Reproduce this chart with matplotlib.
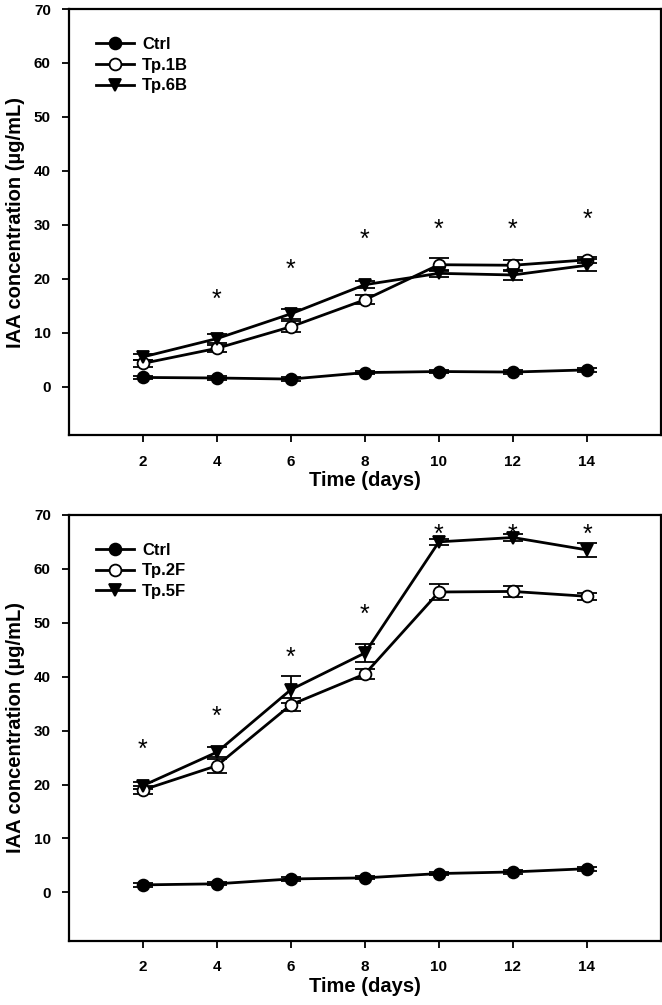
import matplotlib
matplotlib.use("Agg")
from matplotlib import pyplot as plt

plt.rcParams['font.family'] = ['Liberation Sans', 'DejaVu Sans']
plt.rcParams['font.weight'] = 'bold'

days = [2, 4, 6, 8, 10, 12, 14]

# top panel
ctrl_a = [1.7, 1.6, 1.4, 2.6, 2.8, 2.7, 3.1]
ctrl_a_err = [0.3, 0.3, 0.3, 0.3, 0.3, 0.3, 0.3]
tp1b = [4.3, 7.1, 11.1, 16.1, 22.6, 22.5, 23.5]
tp1b_err = [0.6, 0.7, 1.0, 0.8, 1.2, 1.0, 0.6]
tp6b = [5.5, 8.9, 13.5, 18.9, 21.0, 20.7, 22.5]
tp6b_err = [0.5, 0.8, 0.9, 0.6, 0.6, 0.9, 1.1]
star_days_a = [4, 6, 8, 10, 12, 14]
star_y_a = [16.0, 21.6, 27.2, 29.0, 29.0, 31.0]

# bottom panel
ctrl_b = [1.4, 1.6, 2.5, 2.7, 3.5, 3.8, 4.4]
ctrl_b_err = [0.3, 0.3, 0.3, 0.3, 0.3, 0.3, 0.4]
tp2f = [19.0, 23.5, 34.8, 40.5, 55.7, 55.8, 54.9]
tp2f_err = [0.7, 1.3, 1.2, 0.9, 1.5, 1.1, 0.7]
tp5f = [19.8, 26.0, 37.6, 44.4, 65.0, 65.8, 63.5]
tp5f_err = [0.6, 0.9, 2.5, 1.6, 0.5, 0.6, 1.3]
star_days_b = [2, 4, 6, 8, 10, 12, 14]
star_y_b = [26.5, 32.5, 43.5, 51.5, 66.3, 66.3, 66.3]

fig = plt.figure(figsize=(6.62, 10.05), dpi=100)
ax1 = fig.add_axes([0.104, 0.567, 0.8945, 0.424])
ax2 = fig.add_axes([0.104, 0.0637, 0.8945, 0.424])

panels = [
    (ax1, [("Ctrl", ctrl_a, ctrl_a_err, 'o', 'black'),
           ("Tp.1B", tp1b, tp1b_err, 'o', 'white'),
           ("Tp.6B", tp6b, tp6b_err, 'v', 'black')],
     star_days_a, star_y_a),
    (ax2, [("Ctrl", ctrl_b, ctrl_b_err, 'o', 'black'),
           ("Tp.2F", tp2f, tp2f_err, 'o', 'white'),
           ("Tp.5F", tp5f, tp5f_err, 'v', 'black')],
     star_days_b, star_y_b),
]

for ax, series, sx, sy in panels:
    for name, vals, errs, mk, face in series:
        ax.errorbar(days, vals, yerr=errs, color='black', lw=2, marker=mk,
                    ms=8.5, mfc=face, mec='black', mew=1.3, capsize=7,
                    elinewidth=1.3, capthick=1.5, label=name)
    for x, y in zip(sx, sy):
        ax.text(x, y, '*', ha='center', va='center', fontsize=18,
                fontweight='normal')

    ax.set_xlim(0, 16)
    ax.set_ylim(-9, 70)
    ax.set_xticks(days)
    ax.set_yticks(range(0, 71, 10))
    ax.tick_params(axis='both', direction='out', length=5, width=1.3,
                   labelsize=11)
    ax.tick_params(axis='x', pad=9)
    ax.tick_params(axis='y', pad=8)
    for sp in ax.spines.values():
        sp.set_linewidth(1.6)
    ax.set_xlabel('Time (days)', fontsize=14.5, fontweight='bold', labelpad=2)
    ax.set_ylabel('IAA concentration (µg/mL)', fontsize=14.5,
                  fontweight='bold', labelpad=6)

    h, l = ax.get_legend_handles_labels()
    h = [hh[0] for hh in h]
    ax.legend(h, l, loc='upper left', bbox_to_anchor=(0.02, 0.97),
              frameon=False, handlelength=2.3,
              handletextpad=0.5, labelspacing=0.35,
              prop={'weight': 'bold', 'size': 12})

fig.savefig('out.png', dpi=100)
